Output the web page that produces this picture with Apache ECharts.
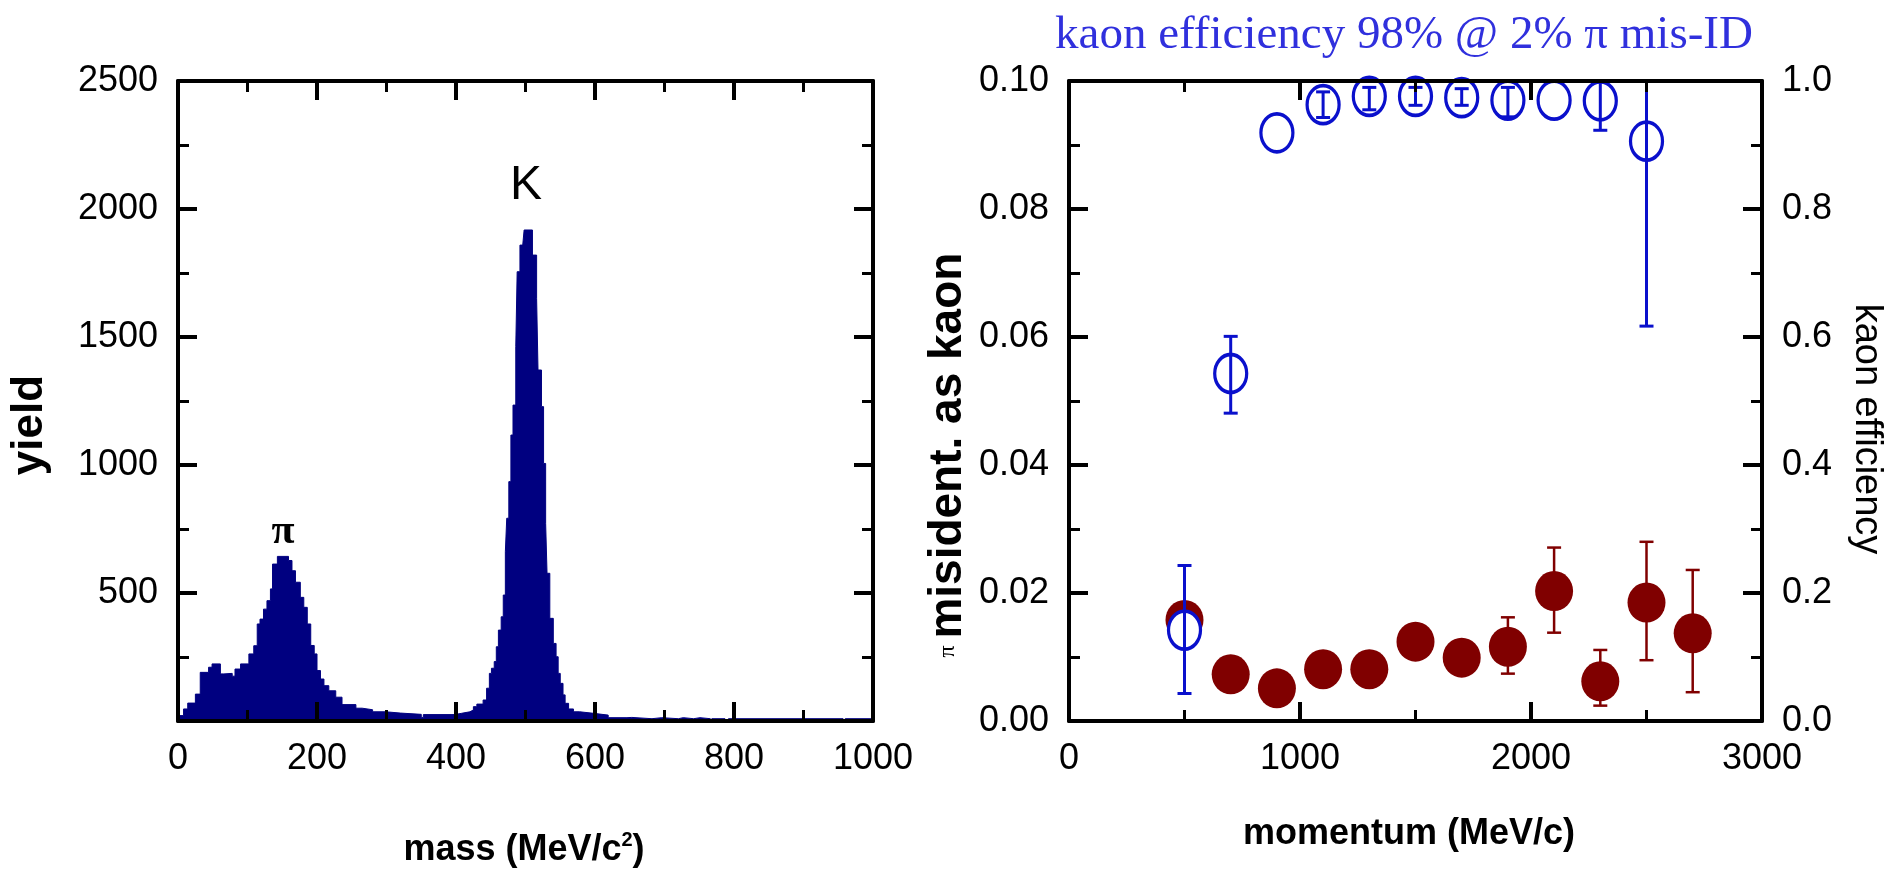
<!DOCTYPE html>
<html>
<head>
<meta charset="utf-8">
<title>mass spectrum and kaon ID</title>
<script src="https://cdn.jsdelivr.net/npm/echarts@6.0.0/dist/echarts.min.js"></script>
<style>
html, body { margin: 0; padding: 0; background: #ffffff; }
#main { width: 1885px; height: 870px; }
</style>
</head>
<body>
<div id="main"></div>
<script>
// left panel: mass histogram, left edge of each bin (MeV/c^2) and its yield
var massEdges = [0, 8, 14, 25, 32, 44, 49, 61, 66, 78, 82, 90, 102, 109, 114, 118, 123, 128, 133, 136,
  143, 159, 164, 169, 176, 181, 186, 191, 196, 200, 205, 210, 217, 227, 236, 256, 265, 280, 299, 320,
  350, 353, 398, 408, 420, 425, 430, 439, 444, 448, 451, 455, 458, 461, 465, 468, 471, 473, 476, 479,
  482, 486, 488, 492, 496, 498, 510, 516, 518, 523, 526, 529, 531, 535, 540, 544, 547, 550, 554, 557,
  562, 569, 578, 598, 619, 646, 653, 682, 696, 720, 727, 742, 751, 766, 768, 787, 792, 957, 960, 1000]
var yieldCounts = [21, 47, 70, 105, 190, 210, 223, 184, 186, 175, 203, 223, 262, 294, 379, 398, 437, 470, 516, 613,
  643, 627, 587, 542, 483, 444, 379, 295, 262, 197, 164, 138, 118, 93, 64, 50, 44, 36, 31, 26,
  14, 25, 30, 36, 43, 56, 66, 82, 128, 186, 206, 232, 290, 355, 407, 492, 661, 792, 935, 1117,
  1234, 1462, 1755, 1859, 1866, 1918, 1820, 1651, 1371, 1228, 1006, 772, 577, 401, 303, 251, 186, 147, 102, 69,
  47, 36, 30, 23, 13, 14, 9, 13, 9, 13, 9, 13, 9, 0, 9, 0, 9, 0, 9, 9]

// right panel: kaon efficiency (open circles, right axis)
var effMomentum = [500, 700, 900, 1100, 1300, 1500, 1700, 1900, 2100, 2300, 2500]
var kaonEff = [0.142, 0.543, 0.919, 0.963, 0.976, 0.976, 0.974, 0.970, 0.970, 0.969, 0.906]
var kaonEffLow = [0.043, 0.481, null, 0.943, 0.955, 0.962, 0.962, 0.944, null, 0.923, 0.617]
var kaonEffHigh = [0.243, 0.601, null, 0.983, 0.990, 0.990, 0.988, 0.990, null, 1.020, 1.050]

// right panel: pion misidentified as kaon (filled dots, left axis)
var misMomentum = [500, 700, 900, 1100, 1300, 1500, 1700, 1900, 2100, 2300, 2500, 2700]
var pionMisid = [0.0158, 0.0073, 0.0051, 0.0081, 0.0081, 0.0124, 0.0099, 0.0116, 0.0203, 0.0062, 0.0185, 0.0137]
var pionMisidLow = [null, null, null, null, null, null, null, 0.0074, 0.0138, 0.0024, 0.0095, 0.0045]
var pionMisidHigh = [null, null, null, null, null, null, null, 0.0162, 0.0271, 0.0111, 0.0280, 0.0236]

var SANS = "'Liberation Sans', Arial, sans-serif"
var SERIF = "'Liberation Serif', 'Times New Roman', serif"
var BLUE = '#0a10cc'
var RED = '#800000'

function pairs(xs, ys) {
  return xs.map(function (x, i) { return [x, ys[i]] })
}

function errData(xs, lo, hi) {
  var out = []
  for (var i = 0; i < xs.length; i++) {
    if (lo[i] != null && hi[i] != null) out.push([xs[i], lo[i], hi[i]])
  }
  return out
}

function errorBars(color, width, cap) {
  return function (params, api) {
    var x = api.value(0)
    var pLo = api.coord([x, api.value(1)])
    var pHi = api.coord([x, api.value(2)])
    var rect = params.coordSys
    var top = Math.max(pHi[1], rect.y)
    var style = { stroke: color, lineWidth: width }
    var kids = [
      { type: 'line', shape: { x1: pLo[0], y1: pLo[1], x2: pLo[0], y2: top }, style: style },
      { type: 'line', shape: { x1: pLo[0] - cap, y1: pLo[1], x2: pLo[0] + cap, y2: pLo[1] }, style: style }
    ]
    if (pHi[1] >= rect.y) {
      kids.push({ type: 'line', shape: { x1: pHi[0] - cap, y1: pHi[1], x2: pHi[0] + cap, y2: pHi[1] }, style: style })
    }
    return { type: 'group', children: kids }
  }
}

function frameAxis(extra) {
  var a = {
    type: 'value',
    z: 10,
    axisLine: { show: true, onZero: false, lineStyle: { color: '#000', width: 4 } },
    axisTick: { show: true, inside: true, length: 19, lineStyle: { color: '#000', width: 4 } },
    minorTick: { show: true, splitNumber: 2, length: 11, lineStyle: { color: '#000', width: 3 } },
    splitLine: { show: false },
    minorSplitLine: { show: false },
    axisLabel: { show: false }
  }
  for (var k in extra) a[k] = extra[k]
  return a
}

function labels(fmt) {
  return { show: true, color: '#000', fontFamily: SANS, fontSize: 36, margin: 20, formatter: fmt }
}

function plain(v) { return String(v) }

var ellipse = 'path://M0,20a16,20 0 1,0 32,0a16,20 0 1,0 -32,0z'

var chart = echarts.init(document.getElementById('main'))
chart.setOption({
  animation: false,
  backgroundColor: '#ffffff',
  grid: [
    { left: 178, right: 1012, top: 81, bottom: 149 },
    { left: 1069, right: 123, top: 81, bottom: 149 }
  ],
  xAxis: [
    frameAxis({ gridIndex: 0, position: 'bottom', min: 0, max: 1000, interval: 200, axisLabel: labels(plain) }),
    frameAxis({ gridIndex: 0, position: 'top', min: 0, max: 1000, interval: 200 }),
    frameAxis({ gridIndex: 1, position: 'bottom', min: 0, max: 3000, interval: 1000, axisLabel: labels(plain) }),
    frameAxis({ gridIndex: 1, position: 'top', min: 0, max: 3000, interval: 1000 })
  ],
  yAxis: [
    frameAxis({ gridIndex: 0, position: 'left', min: 0, max: 2500, interval: 500,
      axisLabel: labels(function (v) { return v === 0 ? '' : String(v) }) }),
    frameAxis({ gridIndex: 0, position: 'right', min: 0, max: 2500, interval: 500 }),
    frameAxis({ gridIndex: 1, position: 'left', min: 0, max: 0.1, interval: 0.02,
      axisLabel: labels(function (v) { return v.toFixed(2) }) }),
    frameAxis({ gridIndex: 1, position: 'right', min: 0, max: 1, interval: 0.2,
      axisLabel: labels(function (v) { return v.toFixed(1) }) })
  ],
  series: [
    {
      name: 'yield',
      type: 'line',
      xAxisIndex: 0,
      yAxisIndex: 0,
      step: 'end',
      symbol: 'none',
      data: pairs(massEdges, yieldCounts),
      lineStyle: { color: '#000080', width: 1 },
      areaStyle: { color: '#000080', opacity: 1 },
      z: 2
    },
    {
      name: 'misid err',
      type: 'custom',
      xAxisIndex: 2,
      yAxisIndex: 2,
      renderItem: errorBars(RED, 2.5, 7),
      data: errData(misMomentum, pionMisidLow, pionMisidHigh),
      z: 3
    },
    {
      name: 'pi misid',
      type: 'scatter',
      xAxisIndex: 2,
      yAxisIndex: 2,
      symbol: 'path://M0,20a19,20 0 1,0 38,0a19,20 0 1,0 -38,0z',
      symbolSize: [38, 40],
      itemStyle: { color: RED, opacity: 1 },
      data: pairs(misMomentum, pionMisid),
      z: 4
    },
    {
      name: 'kaon eff',
      type: 'scatter',
      xAxisIndex: 2,
      yAxisIndex: 3,
      symbol: ellipse,
      symbolSize: [32, 38],
      itemStyle: { color: '#ffffff', borderColor: BLUE, borderWidth: 3.5, opacity: 1 },
      data: pairs(effMomentum, kaonEff),
      z: 5
    },
    {
      name: 'eff err',
      type: 'custom',
      xAxisIndex: 2,
      yAxisIndex: 3,
      renderItem: errorBars(BLUE, 3, 7),
      data: errData(effMomentum, kaonEffLow, kaonEffHigh),
      z: 6
    }
  ],
  graphic: [
    { type: 'text', x: 1404, y: 36, z: 20,
      style: { text: 'kaon efficiency 98% @ 2% π mis-ID', font: '47px ' + SERIF, fill: '#3030dd', align: 'center', verticalAlign: 'middle' } },
    { type: 'text', x: 526, y: 186, z: 20,
      style: { text: 'K', font: '48px ' + SANS, fill: '#000', align: 'center', verticalAlign: 'middle' } },
    { type: 'text', x: 283, y: 532, z: 20,
      style: { text: 'π', font: 'bold 42px ' + SERIF, fill: '#000', align: 'center', verticalAlign: 'middle' } },
    { type: 'text', x: 30, y: 425, rotation: Math.PI / 2, z: 20,
      style: { text: 'yield', font: 'bold 44px ' + SANS, fill: '#000', align: 'center', verticalAlign: 'middle' } },
    { type: 'text', x: 948, y: 455, rotation: Math.PI / 2, z: 20,
      style: {
        text: '{p|π}  {b|misident. as kaon}',
        align: 'center', verticalAlign: 'middle', fill: '#000',
        rich: {
          p: { font: '24px ' + SERIF, fill: '#000' },
          b: { font: 'bold 46px ' + SANS, fill: '#000' }
        }
      } },
    { type: 'text', x: 1866, y: 429, rotation: -Math.PI / 2, z: 20,
      style: { text: 'kaon efficiency', font: '38px ' + SANS, fill: '#000', align: 'center', verticalAlign: 'middle' } },
    { type: 'text', x: 524, y: 850, z: 20,
      style: {
        text: '{b|mass (MeV/c}{s|2}{b|)}',
        align: 'center', verticalAlign: 'middle', fill: '#000',
        rich: {
          b: { font: 'bold 36px ' + SANS, fill: '#000', lineHeight: 40 },
          s: { font: 'bold 20px ' + SANS, fill: '#000', verticalAlign: 'top', lineHeight: 40 }
        }
      } },
    { type: 'text', x: 1409, y: 834, z: 20,
      style: { text: 'momentum (MeV/c)', font: 'bold 36px ' + SANS, fill: '#000', align: 'center', verticalAlign: 'middle' } }
  ]
})
</script>
</body>
</html>
